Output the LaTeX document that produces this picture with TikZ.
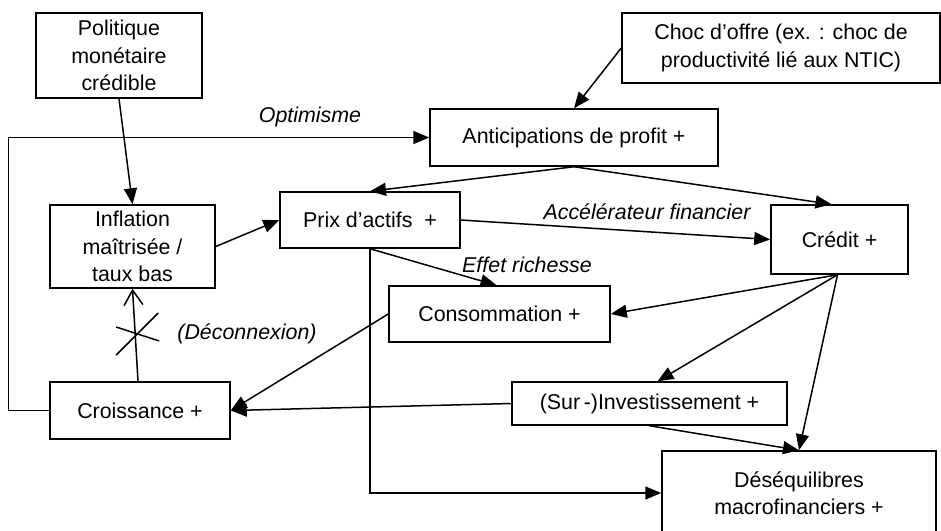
\documentclass[tikz,border=0pt]{standalone}
\usepackage{fontspec}
\setmainfont{Liberation Sans}
\usetikzlibrary{arrows.meta}

\newcommand{\taille}{\fontsize{21.4pt}{27.5pt}\selectfont}

\tikzset{
  boite/.style={draw, line width=1.5pt, align=center, inner sep=0pt},
  fleche/.style={-{Triangle[length=16pt,width=13pt]}, line width=1.5pt},
  etiq/.style={font=\taille\itshape, inner sep=0pt},
}

\begin{document}
\begin{tikzpicture}[x=1pt, y=-1pt, every node/.style={font=\taille}]
        \useasboundingbox (0,0) rectangle (941,530);

        % Les boites
        \node[boite, minimum width=166pt, minimum height=85pt] (pol) at (119,55.5) {Politique\\monétaire\\crédible};
        \node[boite, minimum width=318pt, minimum height=70pt] (choc) at (781,48) {Choc d’offre (ex. : choc de\\productivité lié aux NTIC)};
        \node[boite, minimum width=288pt, minimum height=57pt] (anti) at (574,137.5) {Anticipations de profit +};
        \node[boite, minimum width=165pt, minimum height=83pt] (infl) at (132.5,246.5) {Inflation\\maîtrisée /\\taux bas};
        \node[boite, minimum width=180pt, minimum height=56pt] (prix) at (370,220) {Prix d’actifs\ \ +};
        \node[boite, minimum width=137pt, minimum height=69pt] (cred) at (839.5,239.5) {Crédit +};
        \node[boite, minimum width=221pt, minimum height=56pt] (cons) at (499.5,314) {Consommation +};
        \node[boite, minimum width=275pt, minimum height=43pt] (inv) at (649.5,403.5) {(Sur\,-)Investissement +};
        \node[boite, minimum width=180pt, minimum height=57pt] (crois) at (140,410.5) {Croissance +};
        \node[boite, minimum width=274pt, minimum height=84pt] (des) at (799,493) {Déséquilibres\\macrofinanciers +};

        % Les fleches
        \draw[fleche] (pol.south) -- (infl.north);
        \draw[fleche] (choc.west) -- (anti.north);
        \draw[fleche] (anti.south) -- (prix.north);
        \draw[fleche] (anti.south) -- ([xshift=-8pt]cred.north);
        \draw[fleche] (infl.east) -- (prix.west);
        \draw[fleche] (prix.east) -- (cred.west);
        \draw[fleche] (prix.south) -- ([xshift=-3pt]cons.north);
        \draw[fleche] (prix.south) |- (des.west);
        \draw[fleche] ([xshift=-2pt]cred.south) -- (cons.east);
        \draw[fleche] ([xshift=-2pt]cred.south) -- ([xshift=8pt]inv.north);
        \draw[fleche] ([xshift=-2pt]cred.south) -- (des.north);
        \draw[fleche] (inv.south) -- (des.north);
        \draw[fleche] (cons.west) -- (crois.east);
        \draw[fleche] (inv.west) -- (crois.east);
        \draw[fleche] (crois.west) -- ++(-41,0) |- (anti.west);

        % Deconnexion
        \draw[line width=1.5pt, -{Straight Barb[length=15pt,width=19pt]}] ([xshift=-2pt]crois.north) -- coordinate[pos=0.5] (coupe) (infl.south);
        \draw[line width=1.5pt] ([shift={(-19,20)}]coupe) -- ([shift={(23,-22)}]coupe);
        \draw[line width=1.5pt] ([shift={(-19,-8)}]coupe) -- ([shift={(24,6)}]coupe);

        % Les etiquettes
        \node[etiq] (optim) at (310,117) {Optimisme};
        \node[etiq] (accel) at (647,212) {Accélérateur financier};
        \node[etiq] (riche) at (527,265) {Effet richesse};
        \node[etiq] (decon) at (247,334) {(Déconnexion)};
    \end{tikzpicture}
\end{document}
